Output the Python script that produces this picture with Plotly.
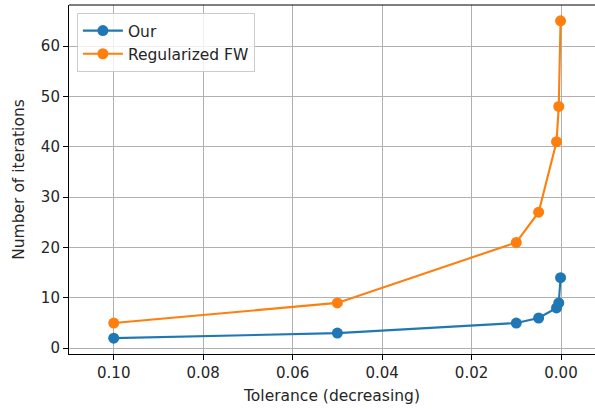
import plotly.graph_objects as go

tolerance = [0.1, 0.05, 0.01, 0.005, 0.001, 0.0005, 0.0001]
our_iters = [2, 3, 5, 6, 8, 9, 14]
fw_iters = [5, 9, 21, 27, 41, 48, 65]
x_ticks = [0.10, 0.08, 0.06, 0.04, 0.02, 0.00]
y_ticks = [0, 10, 20, 30, 40, 50, 60]

blue = "#1f77b4"
orange = "#ff7f0e"
txt = dict(family="DejaVu Sans", size=15, color="#262626")
ttl = dict(family="DejaVu Sans", size=15.5, color="#262626")

fig = go.Figure()
fig.add_trace(go.Scatter(x=tolerance, y=our_iters, mode="lines+markers", name="Our",
                         line=dict(color=blue, width=2.1), marker=dict(size=11, color=blue)))
fig.add_trace(go.Scatter(x=tolerance, y=fw_iters, mode="lines+markers", name="Regularized FW",
                         line=dict(color=orange, width=2.1), marker=dict(size=11, color=orange)))

fig.update_layout(
    width=595, height=409,
    margin=dict(l=69, r=0, t=5, b=55, autoexpand=False),
    plot_bgcolor="white", paper_bgcolor="white",
    font=txt,
    legend=dict(x=0.015, y=0.977, xanchor="left", yanchor="top",
                bgcolor="rgba(255,255,255,0.8)", bordercolor="#cccccc", borderwidth=1,
                font=ttl, itemwidth=40, tracegroupgap=0),
    xaxis=dict(range=[0.11, -0.0076], tickvals=x_ticks, tickformat=".2f",
               automargin=False, tickfont=txt,
               showgrid=True, gridcolor="#b0b0b0", gridwidth=1.1,
               showline=True, linecolor="black", linewidth=1.1,
               ticks="outside", ticklen=5, tickcolor="black", tickwidth=1.1,
               zeroline=False,
               title=dict(text="Tolerance (decreasing)", standoff=9, font=ttl)),
    yaxis=dict(range=[-1.15, 68.15], tickvals=y_ticks,
               automargin=False, tickfont=txt,
               showgrid=True, gridcolor="#b0b0b0", gridwidth=1.1,
               showline=True, linecolor="black", linewidth=1.1,
               ticks="outside", ticklen=5, tickcolor="black", tickwidth=1.1,
               zeroline=False,
               title=dict(text="Number of iterations", standoff=12, font=ttl)),
    shapes=[dict(type="line", xref="paper", yref="paper", x0=0, x1=1, y0=1, y1=1,
                 line=dict(color="black", width=1.1))],
)

fig.write_html("out.html", config={"displayModeBar": False},
               post_script="document.body.style.margin='0';document.body.style.overflow='hidden';")
